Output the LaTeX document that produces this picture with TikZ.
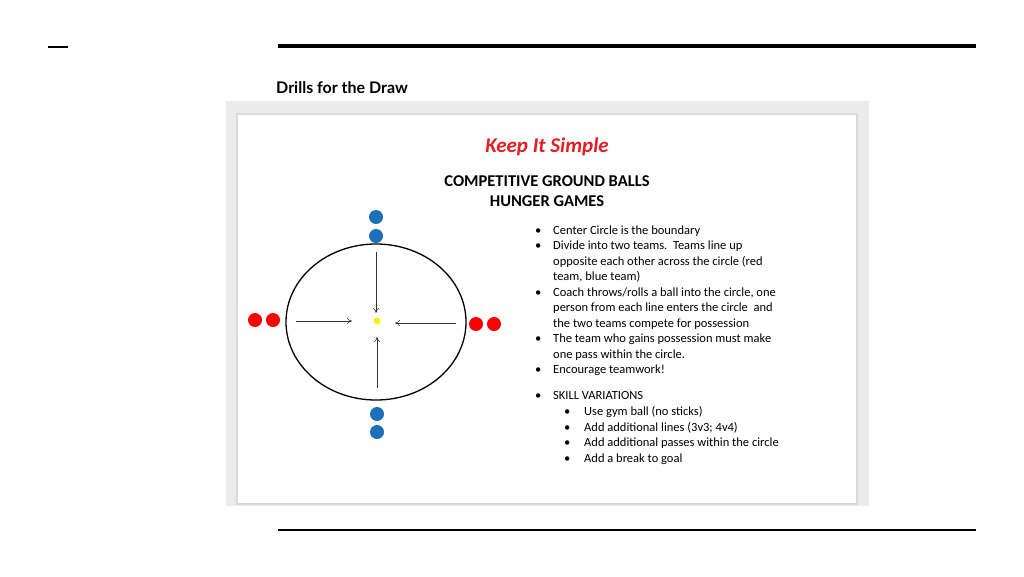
\documentclass[tikz,border=0pt]{standalone}
\usepackage{fontspec}
\setmainfont{Carlito}
\newfontfamily\lato{Lato}
\usetikzlibrary{arrows.meta}
\definecolor{tred}{HTML}{E31E24}
\definecolor{tblue}{HTML}{1C6FB8}
\tikzset{
  blue dot/.style={circle,fill=tblue,inner sep=0pt,minimum size=14pt},
  red dot/.style={circle,fill=red,inner sep=0pt,minimum size=14pt},
  txt/.style={anchor=base west,inner sep=0pt,font=\fontsize{12.5}{14}\selectfont},
  bul/.style={anchor=base west,inner sep=0pt,font=\fontsize{12.5}{14}\selectfont},
  arr/.style={-{To[length=5pt,width=6pt]},line width=0.6pt,draw=black!80}
}
\begin{document}
\begin{tikzpicture}[x=1pt,y=-1pt]
\useasboundingbox (0,0) rectangle (1024,576);
\fill[white] (0,0) rectangle (1024,576);
\draw[line width=2pt] (48,47) -- (68,47);
\draw[line width=4pt] (278,46) -- (976,46);
\draw[line width=2pt] (278,530) -- (976,530);
\node[anchor=base west,inner sep=0pt,font=\lato\bfseries\fontsize{16}{18}\selectfont] (ttl) at (276,93) {Drills for the Draw};
\fill[black!8] (226,101) rectangle (869,506);
\fill[black!15] (236,113) rectangle (858,505);
\fill[white] (238,115) rectangle (856,503);
\node[font=\bfseries\itshape\fontsize{21}{24}\selectfont,text=tred] (k) at (547,147) {Keep It Simple};
\node[font=\bfseries\fontsize{16.5}{20}\selectfont,align=center] (h) at (547,191) {COMPETITIVE GROUND BALLS\\HUNGER GAMES};
\draw[line width=1.3pt] (376,322) ellipse [x radius=90, y radius=78];
\node[blue dot] (b1) at (376,217) {};
\node[blue dot] (b2) at (376,236) {};
\node[blue dot] (b3) at (377,414) {};
\node[blue dot] (b4) at (377,432) {};
\node[red dot] (r1) at (255,320) {};
\node[red dot] (r2) at (273,320) {};
\node[red dot] (r3) at (476,324) {};
\node[red dot] (r4) at (494,324) {};
\node[circle,fill=yellow,inner sep=0pt,minimum size=7pt] (y) at (377,321) {};
\coordinate (at) at (376,252); \coordinate (ate) at (376,313);
\coordinate (al) at (296,321); \coordinate (ale) at (352,321);
\coordinate (ar) at (456,323); \coordinate (are) at (395,323);
\coordinate (ab) at (377,388); \coordinate (abe) at (377,337);
\draw[arr] (at) -- (ate);
\draw[arr] (al) -- (ale);
\draw[arr] (ar) -- (are);
\draw[arr] (ab) -- (abe);
\foreach \yy/\t in {234/Center Circle is the boundary,
  249/Divide into two teams.\ \ Teams line up,
  265/opposite each other across the circle (red,
  280/{team, blue team)},
  296/{Coach throws/rolls a ball into the circle, one},
  311/person from each line enters the circle\ \ and,
  327/the two teams compete for possession,
  342/The team who gains possession must make,
  358/one pass within the circle.,
  373/Encourage teamwork!,
  399/SKILL VARIATIONS/PROGRESSIONS}
  \node[txt] at (553,\yy) {\t};
\foreach \yy in {234,249,296,342,373,399}
  \node[bul] at (535,\yy) {•};
\foreach \yy/\t in {415/Use gym ball (no sticks),
  431/Add additional lines (3v3; 4v4),
  446/Add additional passes within the circle,
  462/Add a break to goal}
  {\node[txt] at (584,\yy) {\t};
   \node[bul] at (564,\yy) {•};}
\end{tikzpicture}
\end{document}
